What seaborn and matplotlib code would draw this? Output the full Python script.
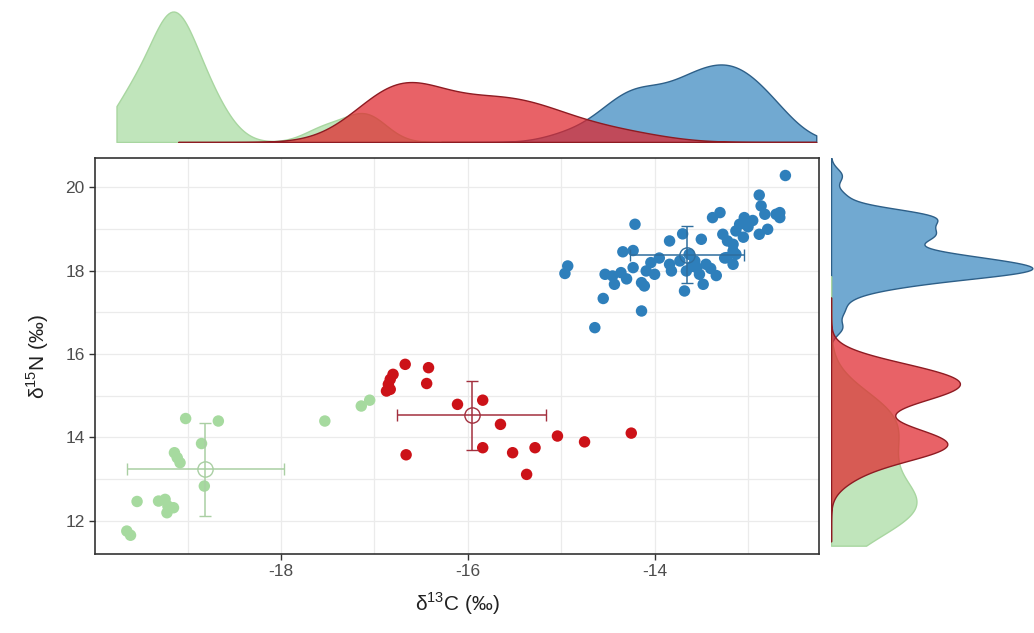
import matplotlib
matplotlib.use("Agg")
import matplotlib.pyplot as plt
import seaborn as sns
import pandas as pd

# isotope values
blue_x = [-12.60, -12.88, -12.86, -12.82, -12.66, -12.66, -12.79, -12.88, -13.30, -13.38,
          -13.04, -13.09, -13.13, -13.27, -13.22, -13.16, -13.23, -13.16, -13.13, -14.21,
          -13.84, -13.70, -13.50, -14.34, -14.23, -14.53, -14.45, -14.36, -14.43, -14.23,
          -14.09, -14.04, -14.00, -14.14, -14.11, -13.84, -13.82, -13.73, -13.66, -13.63,
          -13.57, -13.55, -13.45, -13.52, -13.34, -13.48, -13.68, -14.55, -14.14, -14.64,
          -13.16, -14.96, -14.93, -13.00, -13.05, -12.95, -13.25, -13.60, -13.40, -14.30,
          -13.95, -12.70]
blue_y = [20.28, 19.81, 19.55, 19.35, 19.39, 19.27, 18.99, 18.87, 19.39, 19.27,
          19.27, 19.11, 18.95, 18.87, 18.71, 18.63, 18.31, 18.15, 18.39, 19.11,
          18.71, 18.88, 18.75, 18.45, 18.48, 17.91, 17.87, 17.95, 17.67, 18.07,
          17.99, 18.19, 17.91, 17.71, 17.63, 18.15, 17.99, 18.23, 17.99, 18.39,
          18.23, 18.07, 18.15, 17.91, 17.88, 17.67, 17.51, 17.33, 17.03, 16.63,
          18.47, 17.93, 18.11, 19.05, 18.80, 19.20, 18.30, 18.10, 18.05, 17.80,
          18.30, 19.35]

red_x = [-16.67, -16.42, -16.44, -16.80, -16.83, -16.85, -16.87, -16.83, -16.11, -15.84,
         -15.65, -16.66, -15.84, -15.52, -15.28, -15.37, -15.04, -14.75, -14.25]
red_y = [15.75, 15.67, 15.29, 15.51, 15.39, 15.27, 15.11, 15.15, 14.79, 14.89,
         14.31, 13.58, 13.75, 13.63, 13.75, 13.11, 14.03, 13.89, 14.10]

green_x = [-19.02, -18.67, -18.85, -19.14, -19.11, -19.08, -18.82, -19.54, -19.31, -19.24,
           -19.21, -19.15, -19.22, -19.65, -19.61, -17.53, -17.14, -17.05]
green_y = [14.45, 14.39, 13.85, 13.63, 13.51, 13.39, 12.83, 12.46, 12.47, 12.51,
           12.35, 12.31, 12.19, 11.75, 11.65, 14.39, 14.75, 14.89]

# group means and SDs (error bars)
groups = ["green", "red", "blue"]
mean_x = [-18.81, -15.96, -13.65]
mean_y = [13.23, 14.53, 18.38]
sd_x = [0.84, 0.80, 0.61]
sd_y = [1.11, 0.83, 0.69]

point_col = {"blue": "#2E7FBB", "red": "#CC1218", "green": "#A6DA9F"}
fill_col = {"blue": "#3A88C0", "red": "#E0262C", "green": "#A8DBA1"}
edge_col = {"blue": "#2D5F88", "red": "#8E1B22", "green": "#A8D6A0"}
bar_col = {"blue": "#2F6E9E", "red": "#A3303F", "green": "#A9CFA3"}

df = pd.concat([
    pd.DataFrame({"d13C": blue_x, "d15N": blue_y, "group": "blue"}),
    pd.DataFrame({"d13C": red_x, "d15N": red_y, "group": "red"}),
    pd.DataFrame({"d13C": green_x, "d15N": green_y, "group": "green"}),
])

sns.set_style("white")
plt.rcParams["font.family"] = ["Liberation Sans", "DejaVu Sans"]
plt.rcParams["axes.unicode_minus"] = False

fig = plt.figure(figsize=(10.34, 6.33), dpi=100)
ax = fig.add_axes([0.0919, 0.1248, 0.7002, 0.6256])
ax_top = fig.add_axes([0.0919, 0.7757, 0.7002, 0.2164], sharex=ax)
ax_right = fig.add_axes([0.8037, 0.1248, 0.1963, 0.6256], sharey=ax)

# main scatter
ax.set_axisbelow(True)
sns.scatterplot(data=df, x="d13C", y="d15N", hue="group", palette=point_col,
                s=68, linewidth=0, legend=False, ax=ax, zorder=3)

for i, g in enumerate(groups):
    ax.errorbar(mean_x[i], mean_y[i], xerr=sd_x[i], yerr=sd_y[i], fmt="o",
                mfc="none", mec=bar_col[g], ms=11, mew=1.0, color=bar_col[g],
                elinewidth=1.1, capsize=4, capthick=1.1, zorder=4)

ax.set_xlim(-19.99, -12.24)
ax.set_ylim(11.2, 20.7)
ax.set_xticks([-18, -16, -14])
ax.set_yticks([12, 14, 16, 18, 20])
ax.set_xticks([-19, -17, -15, -13], minor=True)
ax.set_yticks([13, 15, 17, 19], minor=True)
ax.grid(True, which="both", color="#EBEBEB", linewidth=0.9)
for sp in ax.spines.values():
    sp.set_color("#333333")
    sp.set_linewidth(1.2)
ax.tick_params(which="major", direction="out", length=4, width=1, color="#333333",
               labelsize=12.5, labelcolor="#4D4D4D", bottom=True, left=True)
ax.tick_params(which="minor", length=0)
ax.set_xlabel(r"δ$^{\mathregular{13}}$C (‰)", fontsize=15, color="#222222", labelpad=8)
ax.set_ylabel(r"δ$^{\mathregular{15}}$N (‰)", fontsize=15, color="#222222", labelpad=10)

# marginal densities, red drawn last so it sits on top
kde_top = {"blue": 1.0, "green": 0.5, "red": 1.0}
kde_right = {"blue": 0.55, "green": 1.0, "red": 0.7}
for g in ["blue", "green", "red"]:
    sub = df[df["group"] == g]
    sns.kdeplot(x=sub["d13C"], ax=ax_top, fill=True, color=fill_col[g], alpha=0.72,
                edgecolor=edge_col[g], linewidth=1.0, bw_adjust=kde_top[g],
                cut=5, clip=(-19.76, -12.27))
    sns.kdeplot(y=sub["d15N"], ax=ax_right, fill=True, color=fill_col[g], alpha=0.72,
                edgecolor=edge_col[g], linewidth=1.0, bw_adjust=kde_right[g],
                cut=5, clip=(11.4, 20.7))

ax_top.set_ylim(0, None)
ax_right.set_xlim(0, ax_right.get_xlim()[1] * 0.96)
ax_right.set_ylim(11.2, 20.7)
ax.set_xlim(-19.99, -12.24)

for a in (ax_top, ax_right):
    a.axis("off")

fig.savefig("out.png", dpi=100)
